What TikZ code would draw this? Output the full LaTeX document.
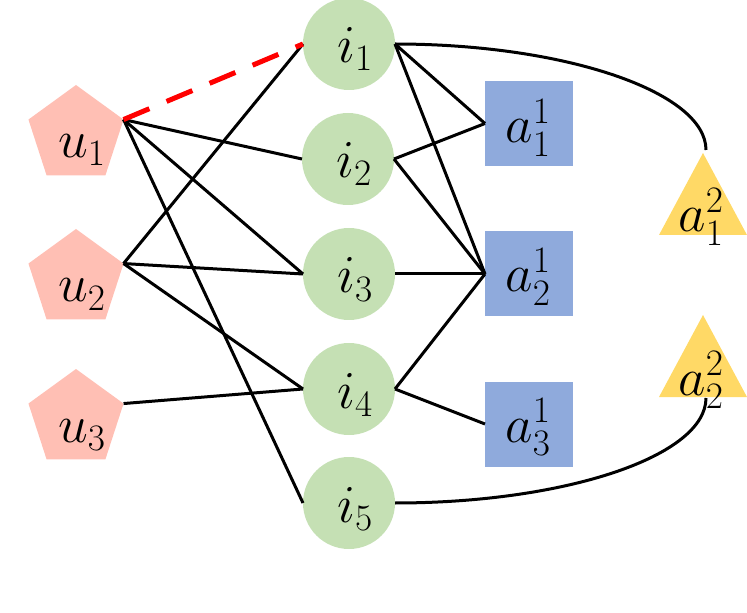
\RequirePackage{fix-cm}
\documentclass[tikz,border=0pt]{standalone}
\usetikzlibrary{shapes.geometric}
\definecolor{pinkfill}{HTML}{FFBFB4}
\definecolor{greenfill}{HTML}{C5E0B4}
\definecolor{bluefill}{HTML}{8FAADC}
\definecolor{yellowfill}{HTML}{FFD966}
\begin{document}
\begin{tikzpicture}[x=0.75pt,y=-0.75pt,
  pent/.style={regular polygon, regular polygon sides=5, minimum size=75pt, inner sep=0pt, outer sep=0pt, fill=pinkfill, draw=none},
  itm/.style={circle, minimum size=69pt, inner sep=0pt, outer sep=0pt, fill=greenfill, draw=none},
  sq/.style={rectangle, minimum width=66pt, minimum height=63.75pt, inner sep=0pt, outer sep=0pt, fill=bluefill, draw=none},
  lab/.style={anchor=base, inner sep=0pt, outer sep=0pt, font=\fontsize{40}{48}\selectfont},
  link/.style={line width=2.25pt, black},
  hl/.style={line width=3.75pt, red, dash pattern=on 21pt off 14pt}]
\useasboundingbox (0,0) rectangle (747,613);
% pentagons
\node[pent] (u1) at (76,135) {};
\node[pent] (u2) at (76,279) {};
\node[pent] (u3) at (76,419) {};
% circles
\node[itm] (i1) at (349,44) {};
\node[itm] (i2) at (348,159) {};
\node[itm] (i3) at (349,274) {};
\node[itm] (i4) at (349,389) {};
\node[itm] (i5) at (349,503) {};
% squares
\node[sq] (a11) at (529,123.5) {};
\node[sq] (a21) at (529,274) {};
\node[sq] (a31) at (529,424) {};
% triangles
\fill[yellowfill] (703,153) -- (659,235) -- (747,235) -- cycle;
\fill[yellowfill] (703,315) -- (659,397) -- (747,397) -- cycle;
\coordinate (a12top) at (706,150);
\coordinate (a22bot) at (706,398);
% connectors
\draw[link] (u1.18) -- (i2.west);
\draw[link] (u1.18) -- (i3.west);
\draw[link] (u1.18) -- (i5.west);
\draw[link] (u2.18) -- (i1.west);
\draw[link] (u2.18) -- (i3.west);
\draw[link] (u2.18) -- (i4.west);
\draw[link] (u3.18) -- (i4.west);
\draw[link] (i1.east) -- (a11.west);
\draw[link] (i1.east) -- (a21.west);
\draw[link] (i2.east) -- (a11.west);
\draw[link] (i2.east) -- (a21.west);
\draw[link] (i3.east) -- (a21.west);
\draw[link] (i4.east) -- (a21.west);
\draw[link] (i4.east) -- (a31.west);
\draw[link] (i1.east) .. controls +(170,0) and +(0,-58) .. (a12top);
\draw[link] (i5.east) .. controls +(171,0) and +(0,58) .. (a22bot);
\draw[hl] (u1.18) -- (i1.west);
% labels
\node[lab] (u1t) at (82,158) {$u_1$};
\node[lab] (u2t) at (82,302) {$u_2$};
\node[lab] (u3t) at (82,442) {$u_3$};
\node[lab] (i1t) at (355,63) {$i_1$};
\node[lab] (i2t) at (354,178) {$i_2$};
\node[lab] (i3t) at (355,293) {$i_3$};
\node[lab] (i4t) at (355,408) {$i_4$};
\node[lab] (i5t) at (355,522) {$i_5$};
\node[lab] (a11t) at (528,143) {$a_1^1$};
\node[lab] (a21t) at (528,292) {$a_2^1$};
\node[lab] (a31t) at (528,442) {$a_3^1$};
\node[lab] (a12t) at (701,232) {$a_1^2$};
\node[lab] (a22t) at (701,395) {$a_2^2$};
\end{tikzpicture}
\end{document}
